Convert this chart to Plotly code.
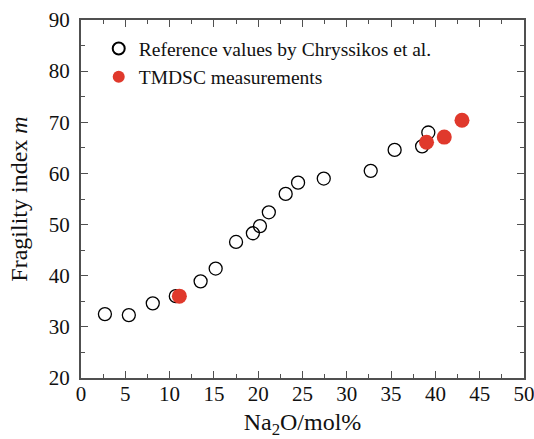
import plotly.graph_objects as go

ref_x = [2.7, 5.4, 8.1, 10.7, 13.5, 15.2, 17.5, 19.4, 20.2, 21.2, 23.1, 24.5, 27.4, 32.7, 35.4, 38.5, 39.2]
ref_y = [32.5, 32.3, 34.6, 36.0, 38.9, 41.4, 46.6, 48.3, 49.7, 52.4, 56.0, 58.2, 59.0, 60.5, 64.6, 65.3, 68.0]
tm_x = [11.1, 39.0, 41.0, 43.0]
tm_y = [36.0, 66.1, 67.1, 70.4]

font = "Liberation Serif, Times New Roman, serif"
axcol = "#505050"

fig = go.Figure()
fig.add_trace(go.Scatter(x=ref_x, y=ref_y, mode="markers", name="Reference values by Chryssikos et al.",
                         marker=dict(symbol="circle-open", size=13, color="black", line=dict(width=1.3))))
fig.add_trace(go.Scatter(x=tm_x, y=tm_y, mode="markers", name="TMDSC measurements",
                         marker=dict(symbol="circle", size=15, color="#e0392c")))

axis_common = dict(showline=True, linecolor=axcol, linewidth=2, mirror="ticks", ticks="inside",
                   ticklen=7, tickwidth=1.2, tickcolor=axcol, showgrid=False, zeroline=False,
                   automargin=False, ticklabeloverflow="allow",
                   tickfont=dict(family=font, size=21, color="#111"),
                   title_font=dict(family=font, size=24, color="#111"))

fig.update_xaxes(range=[0, 50], dtick=5, tick0=0,
                 minor=dict(dtick=2.5, ticks="inside", ticklen=4, tickcolor=axcol, tickwidth=1.2),
                 title_text="Na<sub>2</sub>O/mol%", title_standoff=9, ticklabelstandoff=-4,
                 **axis_common)
fig.update_yaxes(range=[20, 90], dtick=10, tick0=0,
                 minor=dict(dtick=5, ticks="inside", ticklen=4, tickcolor=axcol, tickwidth=1.2),
                 title_text="Fragility index <i>m</i>", title_standoff=14, ticklabelstandoff=5,
                 **axis_common)

fig.update_layout(width=534, height=439, margin=dict(l=81, r=10, t=20, b=61),
                  plot_bgcolor="white", paper_bgcolor="white",
                  font=dict(family=font, color="#111"),
                  legend=dict(x=0.04, y=0.974, xanchor="left", yanchor="top",
                              font=dict(family=font, size=19.5, color="#111"),
                              bgcolor="rgba(0,0,0,0)", itemsizing="constant"),
                  showlegend=True)

fig.write_html("out.html", config={"displayModeBar": False},
               post_script="document.body.style.margin='0';document.body.style.overflow='hidden';")
